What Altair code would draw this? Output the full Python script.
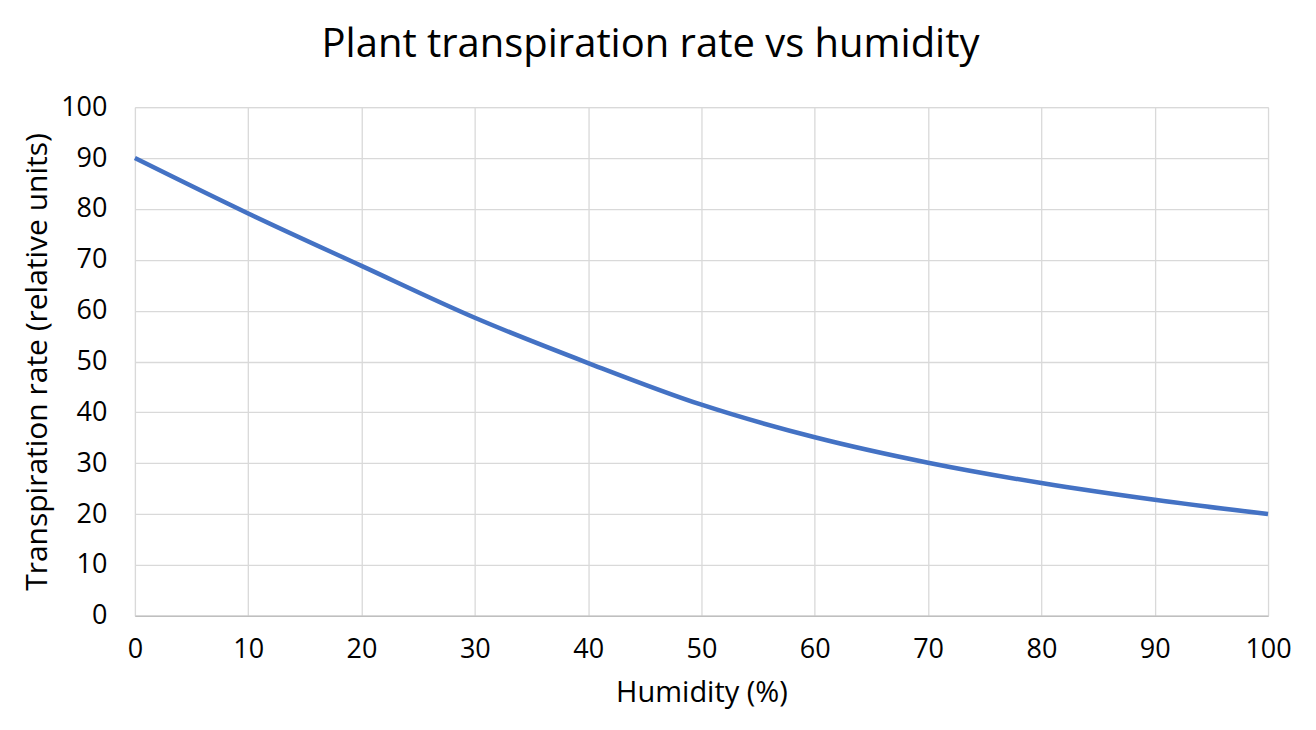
import altair as alt
import pandas as pd

humidity = [0, 10, 20, 30, 40, 50, 60, 70, 80, 90, 100]
transpiration = [90, 79.1, 68.8, 58.6, 49.7, 41.5, 35.1, 30.1, 26.1, 22.8, 20.0]

x_ticks = [0, 10, 20, 30, 40, 50, 60, 70, 80, 90, 100]
y_ticks = [0, 10, 20, 30, 40, 50, 60, 70, 80, 90, 100]

df = pd.DataFrame({"Humidity": humidity, "Rate": transpiration})

FONT = "Open Sans"
W, H = 1134, 509

chart = alt.Chart(df).mark_line(
    color="#4472C4", strokeWidth=4.5, interpolate="monotone"
).encode(
    x=alt.X("Humidity:Q",
            scale=alt.Scale(domain=[0, 100], nice=False),
            axis=alt.Axis(values=x_ticks, title="Humidity (%)", ticks=False,
                          labelFlush=False, labelOverlap=False,
                          labelPadding=21, labelFontSize=27, labelFont=FONT,
                          labelColor="#000000", titleFont=FONT, titleFontSize=29,
                          titleFontWeight="normal", titleColor="#000000",
                          titleY=77, titleBaseline="middle",
                          domainColor="#bfbfbf", domainWidth=1.5,
                          gridColor="#d9d9d9", gridWidth=1.3)),
    y=alt.Y("Rate:Q",
            scale=alt.Scale(domain=[0, 100], nice=False),
            axis=alt.Axis(values=y_ticks, title="Transpiration rate (relative units)",
                          ticks=False, domain=False, labelPadding=28,
                          labelFontSize=27, labelFont=FONT, labelColor="#000000",
                          titleFont=FONT, titleFontSize=30, titleFontWeight="normal",
                          titleColor="#000000", titleX=-97, titleY=H / 2,
                          titleAngle=-90, titleBaseline="middle", titleAlign="center",
                          gridColor="#d9d9d9", gridWidth=1.3)),
).properties(
    width=W, height=H,
    title=alt.TitleParams("Plant transpiration rate vs humidity", font=FONT,
                          fontSize=40, fontWeight="normal", color="#000000",
                          anchor="middle", offset=28, dx=-51),
    autosize=alt.AutoSizeParams(type="none"),
    padding={"left": 127, "top": 99, "right": 40, "bottom": 100},
).configure_view(stroke=None).configure(background="white")

chart.save("out.html", embed_options={"renderer": "svg", "actions": False})
